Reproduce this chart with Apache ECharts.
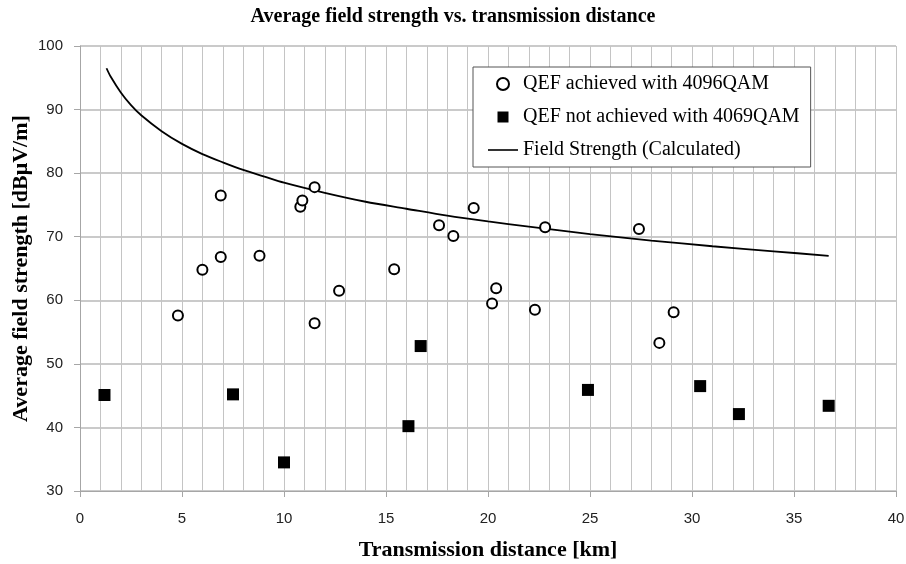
<!DOCTYPE html>
<html>
<head>
<meta charset="utf-8">
<script src="https://cdn.jsdelivr.net/npm/echarts@6/dist/echarts.min.js"></script>
<style>
  html, body { margin: 0; padding: 0; background: #fff; }
  #main { width: 906px; height: 564px; }
</style>
</head>
<body>
<div id="main"></div>
<script>
// QEF achieved with 4096QAM  [distance km, field strength dBuV/m]
var achieved = [
  [4.8, 57.6], [6.0, 64.8], [6.9, 66.8], [6.9, 76.5], [8.8, 67.0],
  [10.8, 74.7], [10.9, 75.7], [11.5, 77.8], [11.5, 56.4], [12.7, 61.5],
  [15.4, 64.9], [17.6, 71.8], [18.3, 70.1], [19.3, 74.5], [20.2, 59.5],
  [20.4, 61.9], [22.3, 58.5], [22.8, 71.5], [27.4, 71.2], [28.4, 53.3],
  [29.1, 58.1]
];
// QEF not achieved with 4069QAM
var notAchieved = [
  [1.2, 45.1], [7.5, 45.2], [10.0, 34.5], [16.1, 40.2], [16.7, 52.8],
  [24.9, 45.9], [30.4, 46.5], [32.3, 42.1], [36.7, 43.4]
];
// calculated field strength curve
var curveX = [1.3, 1.5, 2, 2.5, 3, 4, 5, 6, 7, 8, 9, 10, 12, 14, 16, 18, 20, 22, 25, 28, 31, 34, 36.7];
var curveY = [96.5, 95.2, 92.7, 90.7, 89.1, 86.6, 84.6, 83.0, 81.7, 80.5, 79.5, 78.5, 76.9, 75.5, 74.4, 73.3, 72.4, 71.6, 70.4, 69.4, 68.5, 67.7, 67.0];

var seriesNames = ['QEF achieved with 4096QAM', 'QEF not achieved with 4069QAM', 'Field Strength (Calculated)'];

var serif = '"Liberation Serif", "Times New Roman", serif';
var sans = '"Liberation Sans", Arial, sans-serif';

// legend icons live in a 30x12 box; the extra moveTo points keep that box
var squareIcon = 'path://M0,0M30,12M9.5,0.5h11v11h-11z';
var lineIcon = 'path://M0,0M30,12M0,5.2h30v1.6h-30z';

var chart = echarts.init(document.getElementById('main'));

var curve = curveX.map(function (x, i) { return [x, curveY[i]]; });

var option = {
  backgroundColor: '#fff',
  animation: false,
  title: {
    text: 'Average field strength vs. transmission distance',
    left: 'center',
    top: 2,
    textStyle: { fontFamily: serif, fontWeight: 'bold', fontSize: 20, color: '#000' }
  },
  grid: { left: 80, right: 10, top: 46, bottom: 73, containLabel: false, outerBoundsMode: 'none' },
  legend: {
    data: [
      { name: seriesNames[0], icon: 'circle' },
      { name: seriesNames[1], icon: squareIcon },
      { name: seriesNames[2], icon: lineIcon }
    ],
    orient: 'vertical',
    left: 473,
    top: 67,
    itemWidth: 30,
    itemHeight: 12,
    itemGap: 13,
    padding: [7, 11, 7, 15],
    borderColor: '#555',
    borderWidth: 1,
    backgroundColor: '#fff',
    textStyle: { fontFamily: serif, fontSize: 20, color: '#000' }
  },
  xAxis: {
    type: 'value',
    min: 0,
    max: 40,
    interval: 5,
    name: 'Transmission distance [km]',
    nameLocation: 'middle',
    nameGap: 48,
    nameMoveOverlap: false,
    nameTextStyle: { fontFamily: serif, fontWeight: 'bold', fontSize: 22, color: '#000' },
    axisLine: { show: true, lineStyle: { color: '#a6a6a6', width: 1 } },
    axisTick: { show: true, length: 6, lineStyle: { color: '#a6a6a6' } },
    axisLabel: { fontFamily: sans, fontSize: 15, color: '#222', margin: 20 },
    splitLine: { show: true, lineStyle: { color: '#c4c4c4', width: 1 } },
    minorTick: { show: false, splitNumber: 5 },
    minorSplitLine: { show: true, lineStyle: { color: '#c4c4c4', width: 1 } }
  },
  yAxis: {
    type: 'value',
    min: 30,
    max: 100,
    interval: 10,
    name: 'Average field strength [dB\u03bcV/m]',
    nameLocation: 'middle',
    nameGap: 48,
    nameMoveOverlap: false,
    nameTextStyle: { fontFamily: serif, fontWeight: 'bold', fontSize: 22, color: '#000' },
    axisLine: { show: true, lineStyle: { color: '#a6a6a6', width: 1 } },
    axisTick: { show: true, length: 6, lineStyle: { color: '#a6a6a6' } },
    axisLabel: { fontFamily: sans, fontSize: 15, color: '#222', margin: 17 },
    splitLine: { show: true, lineStyle: { color: '#b8b8b8', width: 1.5 } }
  },
  series: [
    {
      name: seriesNames[0],
      type: 'scatter',
      symbol: 'circle',
      symbolSize: 10,
      itemStyle: { color: '#fff', borderColor: '#000', borderWidth: 2, opacity: 1 },
      data: achieved,
      z: 4
    },
    {
      name: seriesNames[1],
      type: 'scatter',
      symbol: 'rect',
      symbolSize: 12,
      itemStyle: { color: '#000', opacity: 1 },
      data: notAchieved,
      z: 4
    },
    {
      name: seriesNames[2],
      type: 'line',
      smooth: 0.3,
      symbol: 'none',
      lineStyle: { color: '#000', width: 1.8 },
      itemStyle: { color: '#000' },
      data: curve,
      z: 3
    }
  ]
};

chart.setOption(option);
</script>
</body>
</html>
